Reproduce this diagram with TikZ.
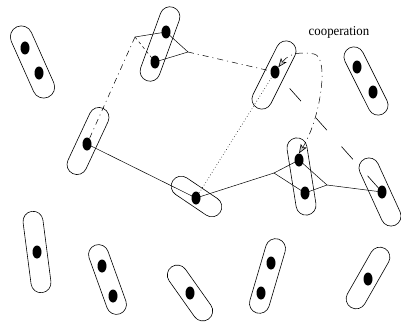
\documentclass[tikz,border=0pt]{standalone}
\usepackage{fontspec}
\setmainfont{Liberation Serif}
\usetikzlibrary{shapes.geometric,arrows.meta}
\tikzset{
  cell/.style={draw, line width=0.6pt, rectangle, rounded corners=10pt,
    minimum height=20pt, inner sep=0pt},
  nucleus/.style={fill=black, ellipse, minimum width=9pt, minimum height=13pt, inner sep=0pt},
  link/.style={line width=0.5pt},
  dashdotlink/.style={line width=0.5pt, dash pattern=on 6pt off 4pt on 1pt off 4pt},
  dottedlink/.style={line width=0.6pt, dash pattern=on 0.6pt off 2.4pt},
  longdash/.style={line width=0.6pt, dash pattern=on 17pt off 22pt, dash phase=17pt},
  shortdash/.style={line width=0.5pt, dash pattern=on 3pt off 3pt},
  cooptip/.tip={Stealth[length=9pt,width=7pt,inset=2pt,fill=gray!45,line width=0.6pt]},
  coop/.style={line width=0.5pt, dash pattern=on 7pt off 4pt on 1pt off 4pt,
    cooptip-cooptip},
}
\begin{document}
\begin{tikzpicture}[x=1pt,y=-1pt]
  \useasboundingbox (0,0) rectangle (401,321);

  % cell bodies
  \node[cell, minimum width=77pt, minimum height=22pt, rounded corners=11pt, rotate=114] (c1) at (32.5,62) {};
  \node[cell, minimum width=78pt, rotate=70]    (c2)  at (160,44)    {};
  \node[cell, minimum width=74pt, rotate=63.4]  (c3)  at (274,75)    {};
  \node[cell, minimum width=74pt, rotate=116.6] (c4)  at (366,81)    {};
  \node[cell, minimum width=72pt, rotate=65]    (c5)  at (88,141)    {};
  \node[cell, minimum width=57pt, rotate=-34]   (c6)  at (196.5,196.5) {};
  \node[cell, minimum width=78pt, rotate=99]    (c7)  at (301.5,176.5) {};
  \node[cell, minimum width=73pt, rotate=114.6] (c8)  at (380,192)   {};
  \node[cell, minimum width=82pt, rotate=97.4]  (c9)  at (37,252)    {};
  \node[cell, minimum width=73pt, rotate=109.8] (c10) at (107.5,279.5) {};
  \node[cell, minimum width=64pt, rotate=125.3] (c11) at (190,293)   {};
  \node[cell, minimum width=77pt, rotate=73.6]  (c12) at (267.5,276) {};
  \node[cell, minimum width=68pt, rotate=60.3]  (c13) at (368,278)   {};

  % nuclei
  \node[nucleus] (d1a)  at (25,48)   {};
  \node[nucleus] (d1b)  at (39,73)   {};
  \node[nucleus] (d2a)  at (166,32)  {};
  \node[nucleus] (d2b)  at (155,62)  {};
  \node[nucleus] (d3)   at (275,72)  {};
  \node[nucleus] (d4a)  at (357,67)  {};
  \node[nucleus] (d4b)  at (373,92)  {};
  \node[nucleus] (d5)   at (87,144)  {};
  \node[nucleus] (d6)   at (196,198) {};
  \node[nucleus] (d7a)  at (299,160) {};
  \node[nucleus] (d7b)  at (305,193) {};
  \node[nucleus] (d8)   at (382,192) {};
  \node[nucleus] (d9)   at (37,252)  {};
  \node[nucleus] (d10a) at (102,266) {};
  \node[nucleus] (d10b) at (113,296) {};
  \node[nucleus] (d11)  at (190,293) {};
  \node[nucleus] (d12a) at (271,263) {};
  \node[nucleus] (d12b) at (261,293) {};
  \node[nucleus] (d13)  at (368,279) {};

  % branching points
  \coordinate (jl) at (135,37);
  \coordinate (jr) at (188,52);
  \coordinate (j1) at (274,173);
  \coordinate (j2) at (327,185);
  \coordinate (top) at (314,54);

  % solid chain through the middle
  \draw[link] (d5.center) -- (d6.center);
  \draw[link] (d6.center) -- (j1) -- (d7a.center);
  \draw[link] (j1) -- (d7b.center);
  \draw[link] (d7a.center) -- (j2) -- (d7b.center);
  \draw[link] (j2) -- (d8.center);

  % links around the upper cell
  \draw[link] (jl) -- (d2a.center);
  \draw[shortdash] (jl) -- (d2b.center);
  \draw[link] (d2a.center) -- (jr) -- (d2b.center);
  \draw[dashdotlink] (jl) -- (d5.center);
  \draw[dashdotlink] (jr) -- (d3.center);

  % other links
  \draw[dottedlink] (d6.center) -- (d3.center);
  \draw[longdash] (d3.center) -- (d8.center);

  % cooperation arc
  \draw[coop] (d3.north east) .. controls (290,52) and (303,52) .. (top)
    .. controls (330,57) and (320,120) .. (d7a.north);
  \node[font=\fontsize{13.5}{13.5}\selectfont, inner sep=0pt, xscale=0.95] (lbl) at (339,32) {cooperation};
\end{tikzpicture}
\end{document}
